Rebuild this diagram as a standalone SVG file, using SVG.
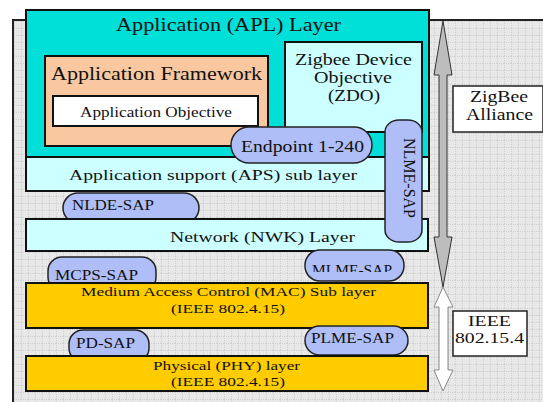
<svg xmlns="http://www.w3.org/2000/svg" width="543" height="402" viewBox="0 0 543 402" font-family="'Liberation Serif', 'Times New Roman', serif">
<defs>
<pattern id="grid" width="7" height="7" patternUnits="userSpaceOnUse">
<rect width="7" height="7" fill="#E8E8E8"/>
<path d="M0 0.5H7M0.5 0V7" stroke="#D0D0D0" stroke-width="1" stroke-dasharray="1 1"/>
</pattern>
<clipPath id="mlmeClip"><rect x="300" y="245" width="110" height="27"/></clipPath>
<style>
text{font-family:'Liberation Serif','Times New Roman',serif;fill:#111;}
.layer{stroke:#111;stroke-width:2;}
.pill{fill:#B0BEF8;stroke:#222;stroke-width:1.5;}
.box{fill:#fff;stroke:#222;stroke-width:1.5;}
</style>
</defs>
<rect x="13" y="20" width="535" height="390" fill="url(#grid)" stroke="#222" stroke-width="2"/>
<g id="connectors">
<polygon points="443,21 452,75 447,75 447,237 452,237 443,287 434,237 439,237 439,75 434,75" fill="#BDBDBD" stroke="#333" stroke-width="1"/>
<polygon points="443,287 453,307 448,307 448,370 453,370 443,391 434,370 439,370 439,307 434,307" fill="#fff" stroke="#888" stroke-width="1"/>
</g>
<g id="apl">
<rect class="layer" x="26" y="10" width="403" height="147" fill="#00E0D8"/>
<text x="116" y="31" font-size="19" textLength="225" lengthAdjust="spacingAndGlyphs">Application (APL) Layer</text>
</g>
<g id="framework">
<rect class="layer" x="45" y="56" width="223" height="90" fill="#F9C8A0"/>
<text x="51" y="80" font-size="18" textLength="211" lengthAdjust="spacingAndGlyphs">Application Framework</text>
</g>
<g id="appobj">
<rect class="layer" x="53" y="96" width="205" height="30" fill="#fff"/>
<text x="80" y="117" font-size="14" textLength="152" lengthAdjust="spacingAndGlyphs">Application Objective</text>
</g>
<g id="zdo">
<rect class="layer" x="285" y="42" width="137" height="90" fill="#CCFFFF"/>
<text x="295" y="65" font-size="17" textLength="117" lengthAdjust="spacingAndGlyphs">Zigbee Device</text>
<text x="314" y="83" font-size="17" textLength="78" lengthAdjust="spacingAndGlyphs">Objective</text>
<text x="328" y="101" font-size="17" textLength="52" lengthAdjust="spacingAndGlyphs">(ZDO)</text>
</g>
<g id="aps">
<rect class="layer" x="26" y="157" width="403" height="34" fill="#CCFFFF"/>
<text x="69" y="180" font-size="15" textLength="288" lengthAdjust="spacingAndGlyphs">Application support (APS) sub layer</text>
</g>
<g id="endpoint">
<rect class="pill" x="231" y="127" width="141" height="36" rx="18"/>
<text x="241" y="152" font-size="17" textLength="123" lengthAdjust="spacingAndGlyphs">Endpoint 1-240</text>
</g>
<g id="nlde">
<rect class="pill" x="63" y="193" width="136" height="30" rx="15"/>
<text x="72" y="210" font-size="15" textLength="82" lengthAdjust="spacingAndGlyphs">NLDE-SAP</text>
</g>
<g id="nwk">
<rect class="layer" x="26" y="219" width="402" height="32" fill="#CCFFFF"/>
<text x="170" y="242" font-size="15" textLength="185" lengthAdjust="spacingAndGlyphs">Network (NWK) Layer</text>
</g>
<g id="nlme">
<rect class="pill" x="385" y="120" width="37" height="122" rx="14" ry="12"/>
<text transform="translate(404,138) rotate(90)" font-size="16" textLength="80" lengthAdjust="spacingAndGlyphs">NLME-SAP</text>
</g>
<g id="mcps">
<rect class="pill" x="48" y="257" width="108" height="34" rx="14"/>
<text x="55" y="280" font-size="15" textLength="83" lengthAdjust="spacingAndGlyphs">MCPS-SAP</text>
</g>
<g id="mlme">
<rect class="pill" x="305" y="250" width="99" height="31" rx="15"/>
<text x="312" y="275" font-size="15" textLength="80" lengthAdjust="spacingAndGlyphs" clip-path="url(#mlmeClip)">MLME-SAP</text>
</g>
<g id="mac">
<rect class="layer" x="26" y="283" width="402" height="45" fill="#FFCC00"/>
<text x="81" y="296" font-size="13.5" textLength="295" lengthAdjust="spacingAndGlyphs">Medium Access Control (MAC) Sub layer</text>
<text x="171" y="313" font-size="13.5" textLength="114" lengthAdjust="spacingAndGlyphs">(IEEE 802.4.15)</text>
</g>
<g id="plme">
<rect class="pill" x="305" y="326" width="103" height="29" rx="14.5"/>
<text x="311" y="343" font-size="15" textLength="83" lengthAdjust="spacingAndGlyphs">PLME-SAP</text>
</g>
<g id="pd">
<rect class="pill" x="69" y="330" width="80" height="32" rx="14"/>
<text x="76" y="348" font-size="15" textLength="59" lengthAdjust="spacingAndGlyphs">PD-SAP</text>
</g>
<g id="phy">
<rect class="layer" x="26" y="356" width="402" height="35" fill="#FFCC00"/>
<text x="153" y="370" font-size="13.5" textLength="147" lengthAdjust="spacingAndGlyphs">Physical (PHY) layer</text>
<text x="171" y="386" font-size="13.5" textLength="114" lengthAdjust="spacingAndGlyphs">(IEEE 802.4.15)</text>
</g>
<g id="zigbee-alliance">
<rect class="box" x="453" y="86" width="90" height="46"/>
<text x="470" y="102" font-size="16" textLength="58" lengthAdjust="spacingAndGlyphs">ZigBee</text>
<text x="466" y="120" font-size="16" textLength="67" lengthAdjust="spacingAndGlyphs">Alliance</text>
</g>
<g id="ieee">
<rect class="box" x="453" y="311" width="74" height="45"/>
<text x="468" y="326" font-size="15" textLength="43" lengthAdjust="spacingAndGlyphs">IEEE</text>
<text x="455" y="343" font-size="15" textLength="69" lengthAdjust="spacingAndGlyphs">802.15.4</text>
</g>
</svg>
